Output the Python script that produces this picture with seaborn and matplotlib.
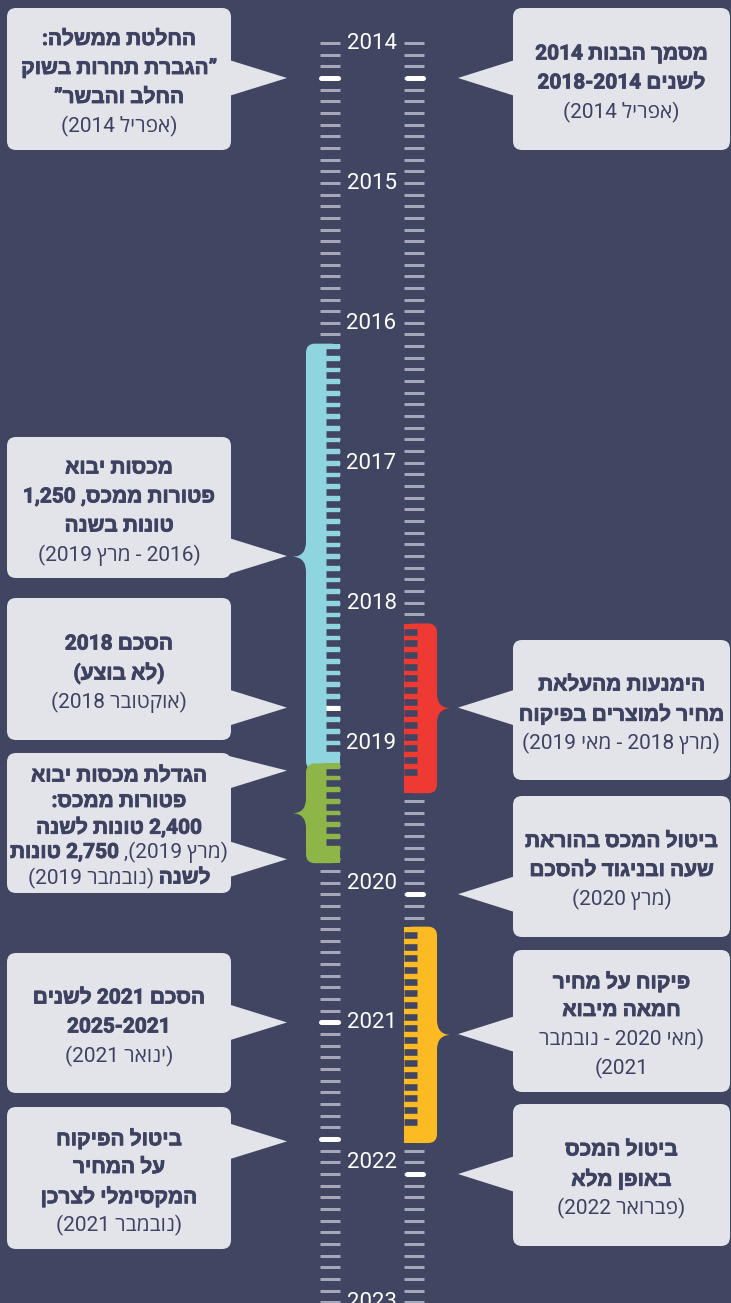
import re
import matplotlib
matplotlib.use('Agg')
import matplotlib.pyplot as plt
import matplotlib.patheffects as pe
from matplotlib.patches import FancyBboxPatch, Rectangle, Polygon, PathPatch
from matplotlib.path import Path
import seaborn as sns

# ---- data -------------------------------------------------------------
YEARS = list(range(2014, 2024))

# highlighted months on each tick column
LEFT_MARKS = [2014 + 3/12, 2018 + 9/12, 2021 + 0/12, 2021 + 10/12]
RIGHT_MARKS = [2014 + 3/12, 2020 + 1/12, 2022 + 1/12]

# period brackets
BRACKET_SIDE = ['left', 'left', 'right', 'right']
BRACKET_START = [2016 + 2/12, 2019 + 2/12, 2018 + 2/12, 2020 + 4/12]
BRACKET_END = [2019 + 2/12, 2019 + 10/12, 2019 + 4/12, 2021 + 10/12]
BRACKET_COLOR = ['#8FD5DF', '#8DB547', '#EE3A33', '#FCBB22']


def mid(i):
    return (BRACKET_START[i] + BRACKET_END[i]) / 2


B, R = True, False

LEFT_TEXTS = [
    [[("החלטת ממשלה:", B)], [("”הגברת תחרות בשוק", B)], [("החלב והבשר”", B)], [("(אפריל 2014)", R)]],
    [[("מכסות יבוא", B)], [("פטורות ממכס, 1,250", B)], [("טונות בשנה", B)], [("(2016 - מרץ 2019)", R)]],
    [[("הסכם 2018", B)], [("(לא בוצע)", B)], [("(אוקטובר 2018)", R)]],
    [[("הגדלת מכסות יבוא", B)], [("פטורות ממכס:", B)], [("2,400 טונות לשנה", B)],
     [("(מרץ 2019),", R), ("2,750 טונות", B)], [("לשנה", B), ("(נובמבר 2019)", R)]],
    [[("הסכם 2021 לשנים", B)], [("2025-2021", B)], [("(ינואר 2021)", R)]],
    [[("ביטול הפיקוח", B)], [("על המחיר", B)], [("המקסימלי לצרכן", B)], [("(נובמבר 2021)", R)]],
]
LEFT_POINTS = [[2014 + 3/12], [mid(0)], [2018 + 9/12], [2019 + 2.4/12, 2019 + 10/12],
               [2021 + 0/12], [2021 + 10.2/12]]

RIGHT_TEXTS = [
    [[("מסמך הבנות 2014", B)], [("לשנים 2018-2014", B)], [("(אפריל 2014)", R)]],
    [[("הימנעות מהעלאת", B)], [("מחיר למוצרים בפיקוח", B)], [("(מרץ 2018 - מאי 2019)", R)]],
    [[("ביטול המכס בהוראת", B)], [("שעה ובניגוד להסכם", B)], [("(מרץ 2020)", R)]],
    [[("פיקוח על מחיר", B)], [("חמאה מיבוא", B)], [("(מאי 2020 - נובמבר", R)], [("2021)", R)]],
    [[("ביטול המכס", B)], [("באופן מלא", B)], [("(פברואר 2022)", R)]],
]
RIGHT_POINTS = [[2014 + 3/12], [mid(2)], [2020 + 1/12], [mid(3)], [2022 + 1/12]]

# ---- layout (pixels) --------------------------------------------------
W, H = 731, 1303
PX_PER_YEAR = 139.92
Y0_PX = 43  # pixel row of January 2014
LEFT_BOX_X = (7, 231)
RIGHT_BOX_X = (513, 730)
LEFT_BOX_Y = [(8, 150), (437, 578), (598, 740), (753, 893), (953, 1093), (1107, 1249)]
RIGHT_BOX_Y = [(8, 150), (640, 780), (796, 937), (950, 1092), (1104, 1246)]
LEFT_TICK_X = (320, 340)
RIGHT_TICK_X = (404, 424)

BG = '#404562'
BOX = '#E3E3EA'
TXT = '#3D4261'
TICK = '#A6A8BA'

TOP = 2014 - Y0_PX / PX_PER_YEAR
BOTTOM = TOP + H / PX_PER_YEAR


def yr(px):
    return TOP + px / PX_PER_YEAR


def dpx(px):
    return px / PX_PER_YEAR


def lw(px):
    return px * 0.72


TOKEN = re.compile(r'\d+(?:[,.\-]\d+)*|.', re.S)
MIRROR = {'(': ')', ')': '('}


def visual(s):
    # logical (RTL) order -> left-to-right drawing order
    toks = TOKEN.findall(s)
    return ''.join(MIRROR.get(t, t) for t in reversed(toks))


sns.set_theme(style='white', rc={'axes.facecolor': BG, 'figure.facecolor': BG})
plt.rcParams['font.family'] = ['Roboto', 'Open Sans', 'Liberation Sans', 'DejaVu Sans']

fig = plt.figure(figsize=(W / 100, H / 100), dpi=100)
ax = fig.add_axes([0, 0, 1, 1])
ax.set_xlim(0, W)
ax.set_ylim(BOTTOM, TOP)
ax.axis('off')
fig.patch.set_facecolor(BG)

# ---- monthly ticks ----------------------------------------------------
months = [2014 + m / 12 for m in range(0, 9 * 12 + 1)]
ax.hlines(months, *LEFT_TICK_X, color=TICK, lw=lw(3), capstyle='butt', zorder=2)
ax.hlines(months, *RIGHT_TICK_X, color=TICK, lw=lw(3), capstyle='butt', zorder=2)

# ---- year labels ------------------------------------------------------
for y in YEARS:
    ax.text(371.5, y + dpx(0.5), str(y), color='white', fontsize=16, ha='center',
            va='center', family='Roboto', zorder=3)


# ---- brackets ---------------------------------------------------------
def draw_bracket(side, start, end, color, z):
    top = start - dpx(2.5)
    bot = end + dpx(4)
    if side == 'left':
        x0, x1, zone, tip_x = 306, 340, (326, 340), 292
        outer, inner = x0, 4
        sq = Rectangle((323, top), x1 - 323, bot - top, color=color, lw=0, zorder=z)
    else:
        x0, x1, zone, tip_x = 404, 437, (404, 417), 451
        outer, inner = x1, -4
        sq = Rectangle((x0, top), 420 - x0, bot - top, color=color, lw=0, zorder=z)
    ax.add_patch(FancyBboxPatch((x0, top), x1 - x0, bot - top,
                                boxstyle='round,pad=0,rounding_size=9',
                                mutation_aspect=1 / PX_PER_YEAR, fc=color, ec='none', zorder=z))
    ax.add_patch(sq)
    # pointed tip of the brace
    m = (top + bot) / 2
    h = dpx(15)
    verts = [(outer, m - h), (outer, m), (tip_x, m), (outer, m), (outer, m + h),
             (outer + inner, m + h), (outer + inner, m - h), (outer, m - h)]
    codes = [Path.MOVETO, Path.CURVE3, Path.CURVE3, Path.CURVE3, Path.CURVE3,
             Path.LINETO, Path.LINETO, Path.CLOSEPOLY]
    ax.add_patch(PathPatch(Path(verts, codes), fc=color, ec='none', zorder=z))
    # notches between the comb teeth
    n0 = round((start - 2014) * 12)
    n1 = round((end - 2014) * 12)
    notch = [2014 + (k + 0.5) / 12 for k in range(n0, n1 - 1)]
    ax.hlines(notch, *zone, color=BG, lw=lw(6.6), capstyle='butt', zorder=z + 0.1)


for i, (side, s, e, c) in enumerate(zip(BRACKET_SIDE, BRACKET_START, BRACKET_END, BRACKET_COLOR)):
    draw_bracket(side, s, e, c, 4 + i * 0.3)


def in_bracket(side, y):
    for sd, s, e in zip(BRACKET_SIDE, BRACKET_START, BRACKET_END):
        if sd == side and s - 1e-6 <= y <= e + 1e-6:
            return True
    return False


for y in LEFT_MARKS:
    if in_bracket('left', y):
        ax.hlines(y, 326, 340, color='white', lw=lw(5), capstyle='butt', zorder=6)
    else:
        ax.hlines(y, 318 + 2.5, 340 - 2.5, color='white', lw=lw(5), capstyle='round', zorder=6)
for y in RIGHT_MARKS:
    ax.hlines(y, 404 + 2.5, 425 - 2.5, color='white', lw=lw(5), capstyle='round', zorder=6)

# ---- callouts ---------------------------------------------------------
renderer = fig.canvas.get_renderer()
GAP = 5
BOLD_FX = [pe.withStroke(linewidth=0.6, foreground=TXT)]


def draw_line(xc, ypx, segments):
    parts = []
    for text, bold in reversed(segments):
        t = ax.text(0, yr(ypx), visual(text), fontsize=15 if bold else 15, color=TXT,
                    ha='left', va='center', fontweight='bold' if bold else 'normal',
                    path_effects=BOLD_FX if bold else None, zorder=8)
        parts.append(t)
    widths = [p.get_window_extent(renderer).width for p in parts]
    x = xc - (sum(widths) + GAP * (len(parts) - 1)) / 2
    for p, w in zip(parts, widths):
        p.set_x(x)
        x += w + GAP


def draw_callout(side, box_y, points, lines):
    top, bot = box_y
    bx = LEFT_BOX_X if side == 'left' else RIGHT_BOX_X
    ax.add_patch(FancyBboxPatch((bx[0], yr(top)), bx[1] - bx[0], dpx(bot - top),
                                boxstyle='round,pad=0,rounding_size=9',
                                mutation_aspect=1 / PX_PER_YEAR, fc=BOX, ec='none', zorder=7))
    edge, tip = (bx[1] - 2, 287) if side == 'left' else (bx[0] + 2, 458)
    for p in points:
        ppx = (p - TOP) * PX_PER_YEAR
        a = max(ppx - 18, top + 3)
        b = min(ppx + 18, bot - 3)
        ax.add_patch(Polygon([(edge, yr(a)), (tip, p), (edge, yr(b))], closed=True,
                             fc=BOX, ec='none', zorder=7))
    n = len(lines)
    step = 25.5 if n >= 5 else 29
    cy = (top + bot) / 2 + 4
    xc = (bx[0] + bx[1]) / 2
    for i, segs in enumerate(lines):
        draw_line(xc, cy + (i - (n - 1) / 2) * step, segs)


for by, pts, lines in zip(LEFT_BOX_Y, LEFT_POINTS, LEFT_TEXTS):
    draw_callout('left', by, pts, lines)
for by, pts, lines in zip(RIGHT_BOX_Y, RIGHT_POINTS, RIGHT_TEXTS):
    draw_callout('right', by, pts, lines)

fig.savefig('out.png', dpi=100, facecolor=BG)
